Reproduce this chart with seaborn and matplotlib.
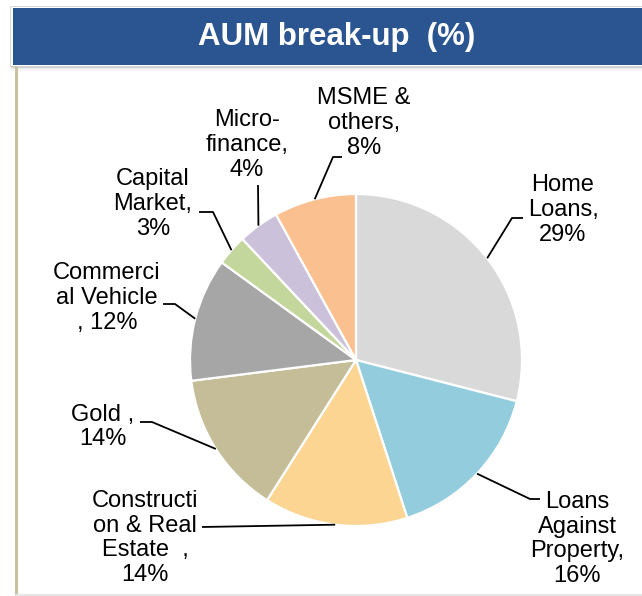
import numpy as np
import matplotlib
matplotlib.use("Agg")
import matplotlib.pyplot as plt
from matplotlib.patches import Rectangle
import seaborn as sns

# ---- data ----
categories = ["Home Loans", "Loans Against Property", "Construction & Real Estate",
              "Gold", "Commercial Vehicle", "Capital Market", "Micro-finance", "MSME & others"]
values = [29, 16, 14, 14, 12, 3, 4, 8]
label_texts = ["Home\nLoans,\n29%", "Loans\nAgainst\nProperty,\n16%",
               "Constructi\non & Real\nEstate  ,\n14%", "Gold ,\n14%",
               "Commerci\nal Vehicle\n, 12%", "Capital\nMarket,\n3%",
               "Micro-\nfinance,\n4%", "MSME &\nothers,\n8%"]
colors = ["#D9D9D9", "#93CDDD", "#FCD592", "#C4BD97", "#A6A6A6", "#C3D69B", "#CCC1DA", "#FAC090"]
title = "AUM break-up  (%)"

# ---- layout (pixel coordinates, y downward) ----
W, H = 642, 596
cx, cy, R = 356, 360, 166
# text block centres
text_pos = [(563, 210), (577, 539), (145, 538), (103, 427),
            (107, 298), (153, 204), (247, 145), (364, 123)]
# leader-line bend points (elbow, end)
leader_pts = [[(512, 218), (523, 218)],
              [(530, 499), (540, 499)],
              [(202, 527)],
              [(152, 422), (140, 422)],
              [(175, 304), (163, 304)],
              [(213, 212), (199, 212)],
              [(258, 185)],
              [(333, 157), (342, 157)]]

sns.set_theme(style="white")
plt.rcParams["font.family"] = ["Liberation Sans", "DejaVu Sans"]

fig = plt.figure(figsize=(W / 100, H / 100), dpi=100)
fig.patch.set_facecolor("white")
ax = fig.add_axes([0, 0, 1, 1])

wedges, _ = ax.pie(values, colors=colors, startangle=-90, counterclock=True,
                   center=(cx, cy), radius=R,
                   wedgeprops=dict(edgecolor="white", linewidth=1.6))
ax.set_xlim(0, W)
ax.set_ylim(H, 0)
ax.set_aspect("equal")
ax.axis("off")

for w, txt, (tx, ty), pts in zip(wedges, label_texts, text_pos, leader_pts):
    mid = np.deg2rad((w.theta1 + w.theta2) / 2)
    sx, sy = cx + R * np.cos(mid), cy + R * np.sin(mid)
    xs = [sx] + [p[0] for p in pts]
    ys = [sy] + [p[1] for p in pts]
    ax.plot(xs, ys, color="black", lw=1.3, solid_capstyle="butt")
    ax.text(tx, ty, txt, ha="center", va="center", multialignment="center",
            fontsize=17, color="black", linespacing=1.16)

# frame lines
ax.plot([16, 16], [67, H], color="#C9C2A1", lw=2.2, clip_on=False)
ax.plot([16, W], [594.5, 594.5], color="#E6E6E6", lw=1.5, clip_on=False)

# title bar with shadow
for i, a in enumerate([0.35, 0.25, 0.15, 0.08]):
    ax.add_patch(Rectangle((11, 64 + i * 1.5), W, 2, facecolor="#808080", alpha=a,
                           edgecolor="none", clip_on=False))
ax.add_patch(Rectangle((10, 6), W, 60, facecolor="white", edgecolor="#D0D0D0",
                       lw=0.6, clip_on=False))
ax.add_patch(Rectangle((13, 7.5), W, 57, facecolor="#2B5591", edgecolor="none",
                       clip_on=False))
ax.text(337, 37, title, ha="center", va="center", color="white",
        fontsize=22.5, fontweight="bold")

fig.savefig("out.png", dpi=100, facecolor="white")
